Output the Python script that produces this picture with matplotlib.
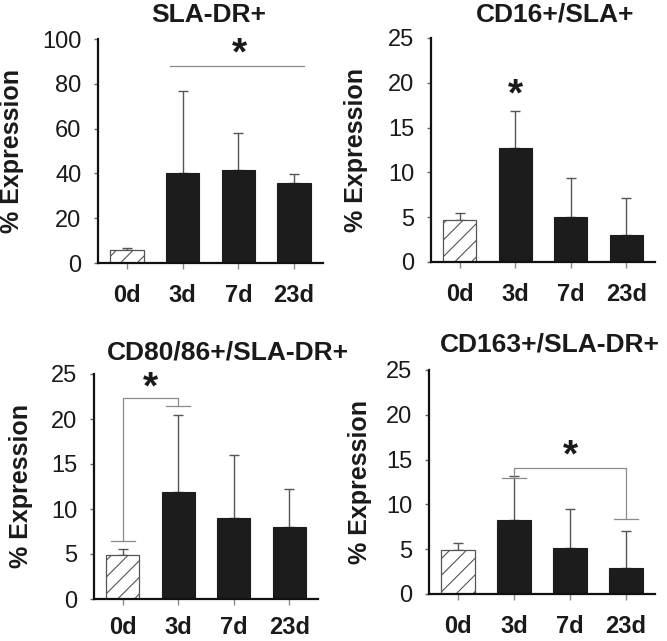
import matplotlib
matplotlib.use("Agg")
import matplotlib.pyplot as plt

plt.rcParams['font.family'] = ['Liberation Sans', 'DejaVu Sans']
plt.rcParams['hatch.linewidth'] = 0.8

categories = ['0d', '3d', '7d', '23d']

sla_dr_mean = [6.0, 40.0, 41.5, 35.5]
sla_dr_err = [0.7, 36.9, 16.5, 4.4]

cd16_mean = [4.7, 12.7, 5.05, 3.05]
cd16_err = [0.8, 4.2, 4.3, 4.1]

cd80_mean = [4.85, 11.85, 9.05, 8.0]
cd80_err = [0.75, 8.65, 6.9, 4.25]

cd163_mean = [4.9, 8.3, 5.1, 2.85]
cd163_err = [0.75, 4.85, 4.4, 4.2]

titles = ['SLA-DR+', 'CD16+/SLA+', 'CD80/86+/SLA-DR+', 'CD163+/SLA-DR+']
ylabel = '% Expression'

W, H = 667, 641
fig = plt.figure(figsize=(W / 100, H / 100), dpi=100)


def px_axes(l, t, r, b):
    return fig.add_axes([l / W, 1 - b / H, (r - l) / W, (b - t) / H])


def draw(ax, means, errs, ymax, step, ylab_x, xpad):
    x = list(range(len(categories)))
    for i, (m, e) in enumerate(zip(means, errs)):
        if i == 0:
            ax.bar(i, m, width=0.6, color='white', edgecolor='#555555',
                   hatch='//', linewidth=0.9, zorder=2)
        else:
            ax.bar(i, m, width=0.6, color='#1c1c1c', edgecolor='#1c1c1c',
                   linewidth=0.8, zorder=2)
    ax.errorbar(x, means, yerr=[[0] * len(errs), errs], fmt='none',
                ecolor='#555555', elinewidth=1.0, capsize=3.6, capthick=1.0,
                zorder=1)
    ax.set_xlim(-0.52, 3.52)
    ax.set_ylim(0, ymax)
    ax.set_yticks(list(range(0, ymax + 1, step)))
    ax.set_xticks(x)
    ax.set_xticklabels(categories, fontsize=17, fontweight='bold', color='#1a1a1a')
    ax.tick_params(axis='y', labelsize=17, length=3, width=1, color='#666666',
                   pad=9, labelcolor='#1a1a1a')
    ax.tick_params(axis='x', length=4, width=1, color='#888888', pad=xpad)
    for s in ['top', 'right']:
        ax.spines[s].set_visible(False)
    for s in ['left', 'bottom']:
        ax.spines[s].set_linewidth(1.6)
        ax.spines[s].set_color('#111111')
    ax.set_ylabel(ylabel, fontsize=18, fontweight='bold', color='#1a1a1a')
    ax.yaxis.set_label_coords(ylab_x, 0.5)


def star(ax, x, y):
    ax.text(x, y, '*', fontsize=28, fontweight='bold', ha='center',
            va='center', color='#1a1a1a')


gray = '#8a8a8a'

ax1 = px_axes(98, 39, 323, 263)
draw(ax1, sla_dr_mean, sla_dr_err, 100, 20, -0.329, 11)
ax1.plot([0.77, 3.18], [88, 88], color=gray, lw=0.9)
star(ax1, 2.02, 93)

ax2 = px_axes(431, 38, 655, 262)
draw(ax2, cd16_mean, cd16_err, 25, 5, -0.281, 11)
star(ax2, 1, 18.6)

ax3 = px_axes(94, 374, 318, 599)
draw(ax3, cd80_mean, cd80_err, 25, 5, -0.272, 8)
ax3.plot([0, 0, 1, 1], [6.45, 22.3, 22.3, 21.4], color=gray, lw=0.9)
ax3.plot([-0.215, 0.215], [6.45, 6.45], color=gray, lw=0.9)
ax3.plot([0.785, 1.215], [21.4, 21.4], color=gray, lw=0.9)
star(ax3, 0.5, 23.4)

ax4 = px_axes(429, 370, 655, 594)
draw(ax4, cd163_mean, cd163_err, 25, 5, -0.252, 11)
ax4.plot([1, 1, 3, 3], [13.0, 14.1, 14.1, 8.4], color=gray, lw=0.9)
ax4.plot([0.785, 1.215], [13.0, 13.0], color=gray, lw=0.9)
ax4.plot([2.785, 3.215], [8.4, 8.4], color=gray, lw=0.9)
star(ax4, 2.0, 15.4)

title_pos = [(209, 15), (555, 15), (228, 352), (550, 345)]
for t, (tx, ty) in zip(titles, title_pos):
    fig.text(tx / W, 1 - ty / H, t, fontsize=19, fontweight='bold',
             ha='center', va='center', color='#1a1a1a')

fig.savefig('out.png', dpi=100)
